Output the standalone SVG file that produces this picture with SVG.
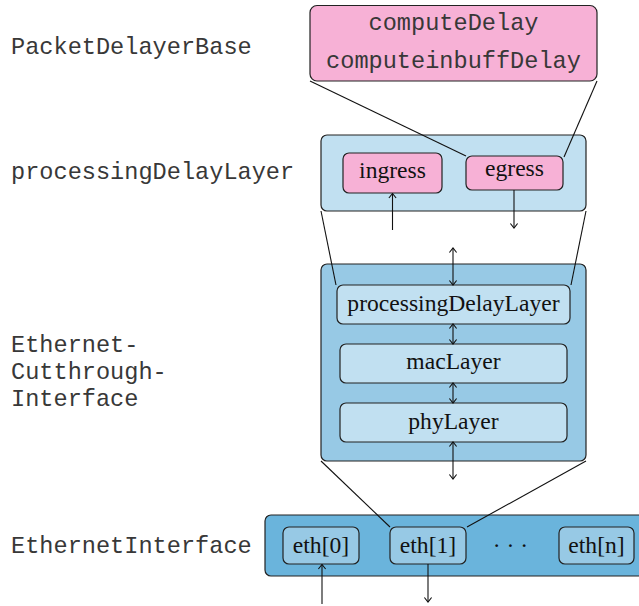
<svg xmlns="http://www.w3.org/2000/svg" width="639" height="606" viewBox="0 0 639 606">
  <defs>
    <style>
      .mono { font-family: "Liberation Mono", "DejaVu Sans Mono", monospace; font-size: 23.6px; fill: #383838; }
      .serif { font-family: "Liberation Serif", "DejaVu Serif", serif; font-size: 23.6px; fill: #111; text-anchor: middle; }
      .box { stroke: #222; stroke-width: 1.2; }
      .pink { fill: #f7b1d6; }
      .lblue { fill: #c1e0f1; }
      .mblue { fill: #97c9e5; }
      .dblue { fill: #6ab4dc; }
      .conn { stroke: #111; stroke-width: 1.1; fill: none; }
    </style>
    <marker id="arr" viewBox="-6 -5 7 10" markerWidth="7" markerHeight="10" refX="0" refY="0" orient="auto-start-reverse" markerUnits="userSpaceOnUse">
      <path d="M-4.5,-3.6 L0,0 L-4.5,3.6" fill="none" stroke="#111" stroke-width="1.1"/>
    </marker>
  </defs>
  <rect width="639" height="606" fill="#ffffff"/>

  <g id="labels">
    <text class="mono" x="11" y="54">PacketDelayerBase</text>
    <text class="mono" x="11" y="179">processingDelayLayer</text>
    <text class="mono" x="11" y="352">Ethernet-</text>
    <text class="mono" x="11" y="379">Cutthrough-</text>
    <text class="mono" x="11" y="406">Interface</text>
    <text class="mono" x="11" y="553">EthernetInterface</text>
  </g>

  <g id="PacketDelayerBase">
    <rect class="box pink" x="310" y="5.5" width="287" height="75.5" rx="7"/>
    <text class="mono" x="453.5" y="30" text-anchor="middle">computeDelay</text>
    <text class="mono" x="453.5" y="68" text-anchor="middle">computeinbuffDelay</text>
  </g>

  <g id="processingDelayLayerModule">
    <rect class="box lblue" x="321" y="135" width="265" height="76" rx="6"/>
  </g>
  <g id="ingress">
    <rect class="box pink" x="343" y="153" width="99" height="40" rx="6"/>
    <text class="serif" x="392.5" y="178">ingress</text>
  </g>
  <g id="egress">
    <rect class="box pink" x="466" y="156" width="97" height="34" rx="6"/>
    <text class="serif" x="514.5" y="176">egress</text>
  </g>

  <g id="EthernetCutthroughInterface">
    <rect class="box mblue" x="321" y="264" width="265" height="197" rx="6"/>
  </g>
  <g id="processingDelayLayer">
    <rect class="box lblue" x="337" y="285" width="233" height="39" rx="6"/>
    <text class="serif" x="453.5" y="311">processingDelayLayer</text>
  </g>
  <g id="macLayer">
    <rect class="box lblue" x="340" y="344" width="227" height="39" rx="6"/>
    <text class="serif" x="453.5" y="369">macLayer</text>
  </g>
  <g id="phyLayer">
    <rect class="box lblue" x="340" y="403" width="227" height="39" rx="6"/>
    <text class="serif" x="453.5" y="429">phyLayer</text>
  </g>

  <g id="EthernetInterface">
    <rect class="box dblue" x="265" y="515" width="385" height="61" rx="6"/>
  </g>
  <g id="eth0">
    <rect class="box mblue" x="283" y="527" width="76" height="37" rx="6"/>
    <text class="serif" x="321" y="553">eth[0]</text>
  </g>
  <g id="eth1">
    <rect class="box mblue" x="390" y="527" width="76" height="37" rx="6"/>
    <text class="serif" x="428" y="553">eth[1]</text>
  </g>
  <g id="dots">
    <text class="serif" x="510.5" y="553" font-size="22">· · ·</text>
  </g>
  <g id="ethn">
    <rect class="box mblue" x="559" y="527" width="75" height="37" rx="6"/>
    <text class="serif" x="596.5" y="553">eth[n]</text>
  </g>

  <g id="connectors">
    <line class="conn" x1="310" y1="81" x2="466" y2="156"/>
    <line class="conn" x1="597" y1="81" x2="564" y2="157"/>
    <line class="conn" x1="321" y1="211" x2="336" y2="285"/>
    <line class="conn" x1="586" y1="211" x2="571" y2="285"/>
    <line class="conn" x1="321" y1="461" x2="390" y2="527"/>
    <line class="conn" x1="586" y1="461" x2="467" y2="527"/>
    <line class="conn" x1="392.5" y1="230" x2="392.5" y2="193.5" marker-end="url(#arr)"/>
    <line class="conn" x1="514" y1="190" x2="514" y2="228" marker-end="url(#arr)"/>
    <line class="conn" x1="453" y1="248" x2="453" y2="285" marker-start="url(#arr)" marker-end="url(#arr)"/>
    <line class="conn" x1="453" y1="324" x2="453" y2="344" marker-start="url(#arr)" marker-end="url(#arr)"/>
    <line class="conn" x1="453" y1="383" x2="453" y2="403" marker-start="url(#arr)" marker-end="url(#arr)"/>
    <line class="conn" x1="453" y1="442" x2="453" y2="479" marker-start="url(#arr)" marker-end="url(#arr)"/>
    <line class="conn" x1="322" y1="604" x2="322" y2="564.5" marker-end="url(#arr)"/>
    <line class="conn" x1="428" y1="564" x2="428" y2="602" marker-end="url(#arr)"/>
  </g>
</svg>
